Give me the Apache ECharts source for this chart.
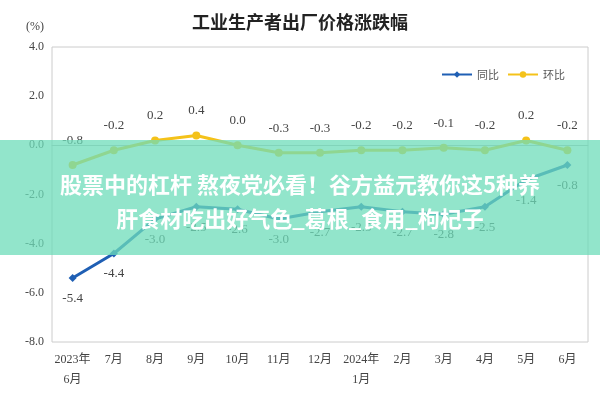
<!DOCTYPE html>
<html><head><meta charset="utf-8">
<script src="https://cdn.jsdelivr.net/npm/echarts@6/dist/echarts.min.js"></script>
<style>html,body{margin:0;padding:0;background:#fff}#c{width:600px;height:400px}</style>
</head><body><div id="c"></div>
<script>
const categories = ['2023年\n6月','7月','8月','9月','10月','11月','12月','2024年\n1月','2月','3月','4月','5月','6月'];
const yoy = [-5.4,-4.4,-3.0,-2.5,-2.6,-3.0,-2.7,-2.5,-2.7,-2.8,-2.5,-1.4,-0.8];
const mom = [-0.8,-0.2,0.2,0.4,0.0,-0.3,-0.3,-0.2,-0.2,-0.1,-0.2,0.2,-0.2];
const yTicks = [-8,-6,-4,-2,0,2,4];
const chart = echarts.init(document.getElementById('c'));
const font = '"Liberation Serif", "Noto Sans CJK SC", serif';
chart.setOption({
  animation:false,
  title:{text:'工业生产者出厂价格涨跌幅',left:'center',top:8,textStyle:{fontFamily:'"Noto Sans CJK SC"',fontSize:18,fontWeight:'bold',color:'#222'}},
  legend:{right:30,top:64,itemWidth:30,itemHeight:8,textStyle:{fontSize:11,color:'#555',fontFamily:'"Noto Sans CJK SC"'},data:['同比','环比']},
  grid:{left:52,right:12,top:47,bottom:58,show:true,borderColor:'#ccc',borderWidth:1},
  xAxis:{type:'category',data:categories,boundaryGap:true,
    axisLine:{lineStyle:{color:'#bbb'}},axisTick:{show:false},
    axisLabel:{color:'#444',fontSize:12,fontFamily:font,interval:0,lineHeight:20}},
  yAxis:{type:'value',min:-8,max:4,interval:2,name:'(%)',nameLocation:'end',nameGap:14,
    nameTextStyle:{color:'#444',fontFamily:font,fontSize:12,align:'right',padding:[0,8,0,0]},
    axisLine:{show:false},axisTick:{show:false},splitLine:{show:false},
    axisLabel:{color:'#444',fontFamily:font,fontSize:12,formatter:v=>v.toFixed(1)}},
  series:[
    {name:'同比',type:'line',data:yoy,color:'#1f5fb4',symbol:'diamond',symbolSize:8,lineStyle:{width:3},
     label:{show:true,position:'bottom',distance:10,color:'#444',fontFamily:font,fontSize:13,formatter:p=>p.value.toFixed(1)}},
    {name:'环比',type:'line',data:mom,color:'#f4c21a',symbol:'circle',symbolSize:8,lineStyle:{width:3},
     label:{show:true,position:'top',distance:14,color:'#444',fontFamily:font,fontSize:13,formatter:p=>p.value.toFixed(1)}}
  ],
  graphic:[
    {type:'rect',left:0,top:140,shape:{width:600,height:115},style:{fill:'rgba(110,220,185,0.75)'},z:100},
    {type:'text',x:300,y:168,z:101,style:{text:'股票中的杠杆 熬夜党必看！谷方益元教你这5种养\n肝食材吃出好气色_葛根_食用_枸杞子',fill:'#fff',font:'bold 22px "Noto Sans CJK SC"',lineHeight:34,align:'center'}}
  ]
});
</script></body></html>
